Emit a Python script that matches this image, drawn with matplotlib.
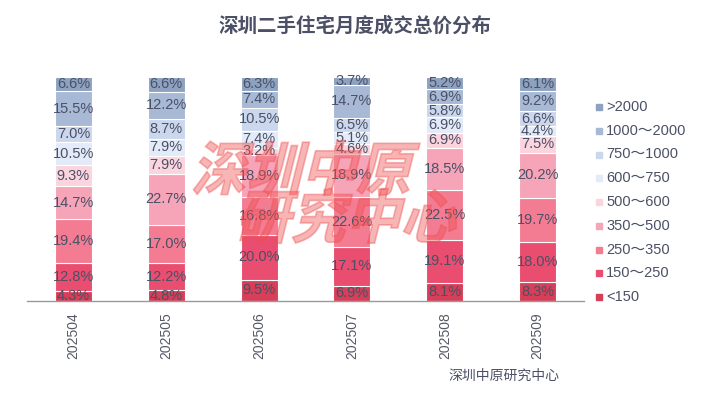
import matplotlib
matplotlib.use("Agg")
import matplotlib.pyplot as plt
import numpy as np
from matplotlib.patches import Rectangle, PathPatch
from matplotlib.textpath import TextPath
from matplotlib.font_manager import FontProperties
from matplotlib.transforms import Affine2D

plt.rcParams['font.family'] = ['Liberation Sans', 'Noto Sans CJK SC', 'DejaVu Sans']

months = ["202504", "202505", "202506", "202507", "202508", "202509"]
segments = ["<150", "150～250", "250～350", "350～500", "500～600",
            "600～750", "750～1000", "1000～2000", ">2000"]
lt150 = [4.3, 4.8, 9.5, 6.9, 8.1, 8.3]
s150_250 = [12.8, 12.2, 20.0, 17.1, 19.1, 18.0]
s250_350 = [19.4, 17.0, 16.8, 22.6, 22.5, 19.7]
s350_500 = [14.7, 22.7, 18.9, 18.9, 18.5, 20.2]
s500_600 = [9.3, 7.9, 3.2, 4.6, 6.9, 7.5]
s600_750 = [10.5, 7.9, 7.4, 5.1, 6.9, 4.4]
s750_1000 = [7.0, 8.7, 10.5, 6.5, 5.8, 6.6]
s1000_2000 = [15.5, 12.2, 7.4, 14.7, 6.9, 9.2]
gt2000 = [6.6, 6.6, 6.3, 3.7, 5.2, 6.1]
series = [lt150, s150_250, s250_350, s350_500, s500_600,
          s600_750, s750_1000, s1000_2000, gt2000]
colors = ["#d63f57", "#e94d6f", "#f37c93", "#f6a4b8", "#fbd4de",
          "#e3eaf8", "#cbd7ec", "#a8b9d5", "#8da2c1"]

text_color = "#4b5066"

fig = plt.figure(figsize=(7.08, 3.95), dpi=100)
ax = fig.add_axes([27 / 708, 1 - 301 / 395, (584 - 27) / 708, (301 - 76.7) / 395])

x = np.arange(len(months))
bottom = np.zeros(len(months))
for vals, col in zip(series, colors):
    v = np.array(vals)
    ax.bar(x, v, width=0.40, bottom=bottom, color=col, edgecolor="white",
           linewidth=0.8, zorder=2)
    for xi, b, h in zip(x, bottom, v):
        ax.text(xi, b + h / 2, f"{h:.1f}%", ha="center", va="center",
                fontsize=10.5, color=text_color, zorder=5)
    bottom += v

ax.set_xlim(-0.5, len(months) - 0.5)
ax.set_ylim(0, bottom.max())
ax.set_yticks([])
ax.set_xticks(x)
ax.set_xticklabels(months, rotation=90, fontsize=10, color="#555a66")
ax.tick_params(axis="x", length=0, pad=8)
for s in ["top", "right", "left"]:
    ax.spines[s].set_visible(False)
ax.spines["bottom"].set_color("#999999")
ax.spines["bottom"].set_linewidth(1.0)
ax.patch.set_alpha(0)

# Title
fig.text(355 / 708, 1 - 26 / 395, "深圳二手住宅月度成交总价分布", ha="center", va="center",
         fontsize=14, fontweight="bold", color=text_color,
         family=['Noto Sans CJK SC'])

# Source
fig.text(448 / 708, 1 - 376 / 395, "深圳中原研究中心", ha="left", va="center",
         fontsize=10, color=text_color, family=['Noto Sans CJK SC'])

# Legend (manual)
top_y = 395 - 107
step = 23.75
for i, (lab, col) in enumerate(zip(segments[::-1], colors[::-1])):
    yc = top_y - i * step
    fig.patches.append(Rectangle((596 / 708, (yc - 3) / 395), 6 / 708, 6 / 395,
                                 transform=fig.transFigure, color=col,
                                 figure=fig))
    fig.text(606 / 708, yc / 395, lab, ha="left", va="center",
             fontsize=10.5, color=text_color)

# Watermark (skewed text)
fp = FontProperties(family="Noto Sans CJK SC", weight="bold")
for txt, x0, y0 in [("深圳中原", 1.91, 3.95 - 1.90), ("研究中心", 2.35, 3.95 - 2.38)]:
    tp = TextPath((0, 0), txt, size=1, prop=fp)
    tr = Affine2D().scale(0.55, 0.58).skew_deg(14, 0).translate(x0, y0) + fig.dpi_scale_trans
    patch = PathPatch(tp, transform=tr, facecolor="#f05050", edgecolor="#f05050",
                      linewidth=1.2, alpha=0.42, zorder=3)
    fig.patches.append(patch)

fig.savefig("out.png", dpi=100)
